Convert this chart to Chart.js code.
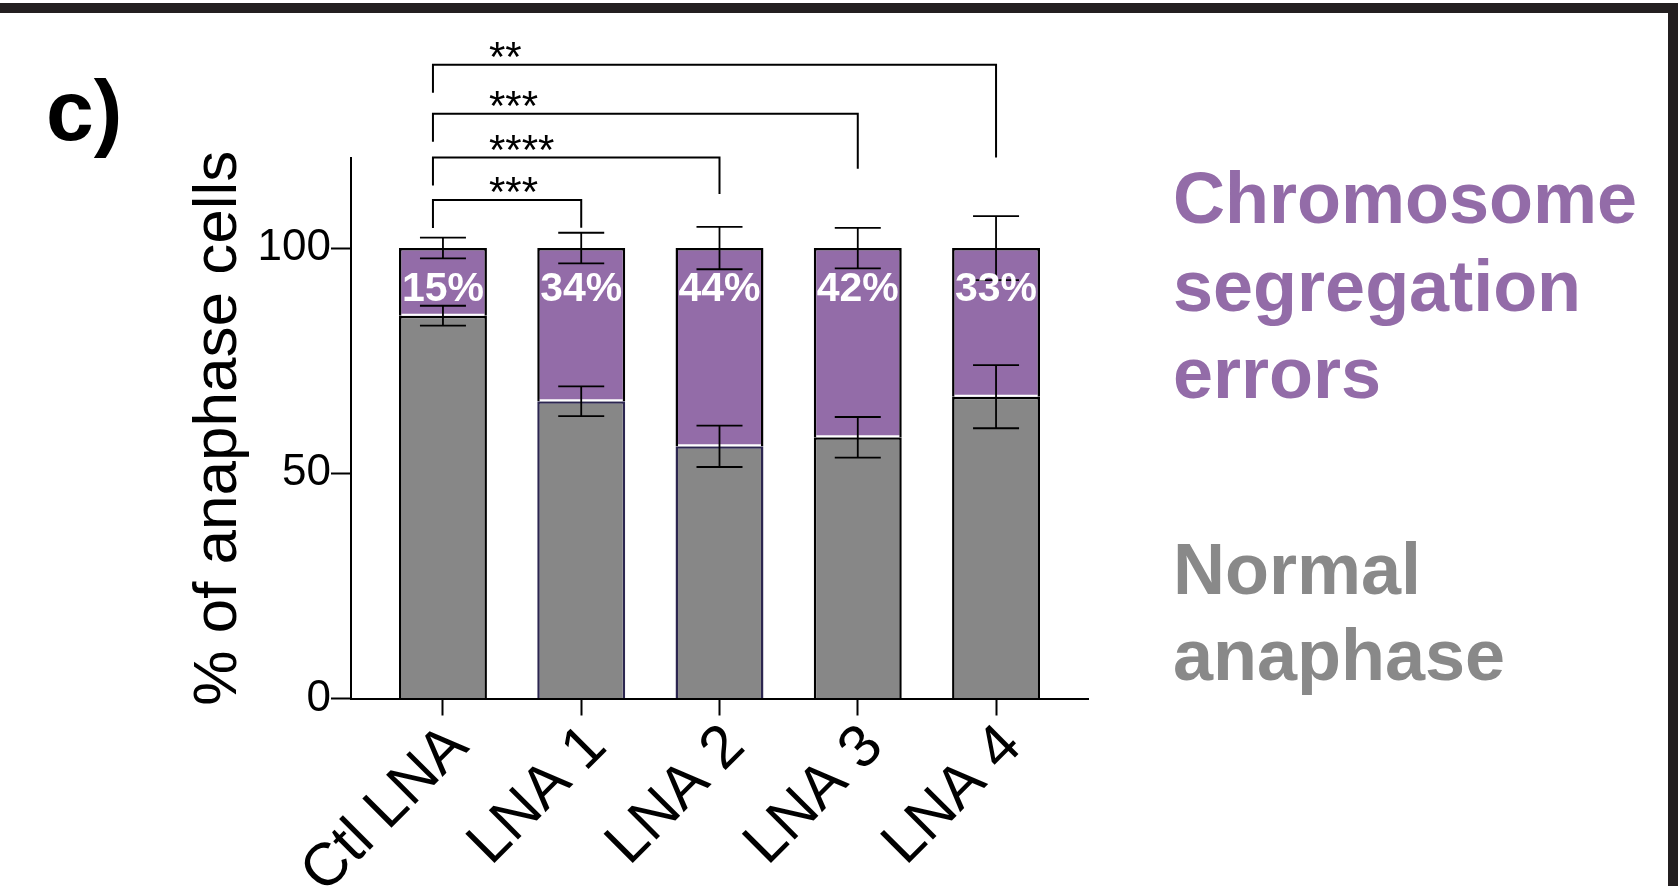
<!DOCTYPE html>
<html>
<head>
<meta charset="utf-8">
<script src="https://cdn.jsdelivr.net/npm/chart.js@4.4.1/dist/chart.umd.min.js"></script>
<style>
  html, body { margin: 0; padding: 0; background: #ffffff; }
  #wrap { position: relative; width: 1678px; height: 886px; overflow: hidden; background: #ffffff; }
  #chart { position: absolute; left: 0; top: 0; }
</style>
</head>
<body>
<div id="wrap"><canvas id="chart" width="1678" height="886"></canvas></div>
<script>
// ---- data ----
const categories = ['Ctl LNA', 'LNA 1', 'LNA 2', 'LNA 3', 'LNA 4'];
const errorPct   = [15, 34, 44, 42, 33];           // chromosome segregation errors (%)
const normalPct  = errorPct.map(v => 100 - v);     // normal anaphase (%)
const normalSD   = [2.2, 3.3, 4.6, 4.5, 7.0];
const errorSD    = [2.3, 3.4, 4.7, 4.5, 7.1];
const yTicks     = [0, 50, 100];
const yTitle     = '% of anaphase cells';
const panelLabel = 'c)';
const errorLines  = ['Chromosome', 'segregation', 'errors'];
const normalLines = ['Normal', 'anaphase'];
// pairwise comparisons against the control
const compareTo  = [1, 2, 3, 4];
const compareSig = ['***', '****', '***', '**'];

// ---- layout & style ----
const FONT = "'Liberation Sans', Arial, Helvetica, sans-serif";
const PURPLE = '#936ca8';
const GREY = '#878787';
const INK = '#000000';
const FRAME = '#231f20';
const bracketTopY   = [110.7, 120.1, 129.8, 140.7];   // y units
const bracketRightY = [104.5, 112.0, 117.6, 120.1];   // y units
const bracketLeftLeg = 28;                           // px

const chartData = {
  labels: categories,
  datasets: [
    {
      label: 'Normal anaphase',
      data: normalPct.map((v, i) => ({ x: i, y: v })),
      backgroundColor: GREY,
      borderColor: ['#000000', '#2c2650', '#2c2650', '#000000', '#000000'],
      borderWidth: 2.5,
      borderSkipped: 'start',
      barPercentage: 0.636,
      categoryPercentage: 1
    },
    {
      label: 'Chromosome segregation errors',
      data: errorPct.map((v, i) => ({ x: i, y: v })),
      backgroundColor: PURPLE,
      borderColor: '#000000',
      borderWidth: 2.5,
      borderSkipped: 'start',
      barPercentage: 0.636,
      categoryPercentage: 1
    }
  ]
};

const annotate = {
  id: 'annotate',
  afterDatasetsDraw(chart) {
    const ctx = chart.ctx;
    const xs = chart.scales.x, ys = chart.scales.y;
    ctx.save();

    // white gap between the two stacked segments
    const grey = chart.getDatasetMeta(0).data;
    ctx.strokeStyle = '#ffffff';
    ctx.lineWidth = 2;
    grey.forEach(bar => {
      const half = bar.width / 2 - 2.5;
      ctx.beginPath();
      ctx.moveTo(bar.x - half, bar.y - 1);
      ctx.lineTo(bar.x + half, bar.y - 1);
      ctx.stroke();
    });

    // error bars (mean ± SD) at the top of each segment
    ctx.strokeStyle = INK;
    ctx.lineWidth = 1.8;
    const cap = 23;
    const drawErr = (x, m, sd) => {
      const yHi = ys.getPixelForValue(m + sd), yLo = ys.getPixelForValue(m - sd);
      ctx.beginPath();
      ctx.moveTo(x, yHi); ctx.lineTo(x, yLo);
      ctx.moveTo(x - cap, yHi); ctx.lineTo(x + cap, yHi);
      ctx.moveTo(x - cap, yLo); ctx.lineTo(x + cap, yLo);
      ctx.stroke();
    };
    categories.forEach((c, i) => {
      const x = xs.getPixelForValue(i);
      drawErr(x, normalPct[i], normalSD[i]);
      drawErr(x, normalPct[i] + errorPct[i], errorSD[i]);
    });

    // percentage of errors inside the purple segment
    ctx.fillStyle = '#ffffff';
    ctx.font = 'bold 41px ' + FONT;
    ctx.textAlign = 'center';
    ctx.textBaseline = 'middle';
    categories.forEach((c, i) => {
      const x = xs.getPixelForValue(i);
      const top = ys.getPixelForValue(normalPct[i] + errorPct[i]);
      ctx.fillText(errorPct[i] + '%', x, top + 42);
    });

    // significance brackets
    const x0 = xs.getPixelForValue(0);
    ctx.strokeStyle = INK;
    ctx.lineWidth = 2;
    ctx.fillStyle = INK;
    ctx.font = '42px ' + FONT;
    ctx.textAlign = 'left';
    ctx.textBaseline = 'alphabetic';
    compareTo.forEach((j, k) => {
      const xl = x0 - 10;
      const xr = xs.getPixelForValue(j);
      const yt = ys.getPixelForValue(bracketTopY[k]);
      const yr = ys.getPixelForValue(bracketRightY[k]);
      ctx.beginPath();
      ctx.moveTo(xl, yt + bracketLeftLeg);
      ctx.lineTo(xl, yt);
      ctx.lineTo(xr, yt);
      ctx.lineTo(xr, yr);
      ctx.stroke();
      ctx.fillText(compareSig[k], x0 + 46, yt + 6);
    });
    ctx.restore();
  },
  afterDraw(chart) {
    const ctx = chart.ctx;
    ctx.save();
    // panel letter
    ctx.fillStyle = INK;
    ctx.font = 'bold 86px ' + FONT;
    ctx.textAlign = 'left';
    ctx.textBaseline = 'alphabetic';
    ctx.fillText(panelLabel, 46, 140);

    // series key written as coloured text
    ctx.font = 'bold 72px ' + FONT;
    ctx.fillStyle = PURPLE;
    errorLines.forEach((t, i) => ctx.fillText(t, 1173, 223 + i * 87.5));
    ctx.fillStyle = '#898989';
    normalLines.forEach((t, i) => ctx.fillText(t, 1173, 594 + i * 86));

    // figure frame
    ctx.fillStyle = FRAME;
    ctx.fillRect(0, 3, 1678, 10);
    ctx.fillRect(1668, 3, 10, 883);
    ctx.restore();
  }
};

new Chart(document.getElementById('chart'), {
  type: 'bar',
  data: chartData,
  plugins: [annotate],
  options: {
    responsive: false,
    animation: false,
    devicePixelRatio: 1,
    layout: { padding: { left: 0, top: 158, right: 590, bottom: 0 } },
    plugins: { legend: { display: false }, tooltip: { enabled: false } },
    scales: {
      x: {
        type: 'linear',
        offset: false,
        stacked: true,
        min: -0.665,
        max: 4.665,
        afterBuildTicks: s => { s.ticks = categories.map((c, i) => ({ value: i })); },
        afterFit: s => { s.height = 187.5; },
        grid: { display: true, offset: false, drawOnChartArea: false, drawTicks: true, tickLength: 17, tickWidth: 2, tickColor: INK },
        border: { display: true, color: INK, width: 2 },
        ticks: {
          autoSkip: false,
          minRotation: 45,
          maxRotation: 45,
          padding: -4,
          labelOffset: 16,
          color: INK,
          font: { family: FONT, size: 60 },
          callback: v => categories[v]
        }
      },
      y: {
        stacked: true,
        min: 0,
        max: 120,
        afterBuildTicks: s => { s.ticks = yTicks.map(v => ({ value: v })); },
        afterFit: s => { s.width = 351; },
        grid: { display: true, drawOnChartArea: false, drawTicks: true, tickLength: 20, tickWidth: 2, tickColor: INK },
        border: { display: true, color: INK, width: 2 },
        ticks: { padding: 0, color: INK, font: { family: FONT, size: 44 } },
        title: {
          display: true,
          text: yTitle,
          color: INK,
          font: { family: FONT, size: 62, weight: 'normal' },
          padding: { top: 182, bottom: 0 }
        }
      }
    }
  }
});
</script>
</body>
</html>
